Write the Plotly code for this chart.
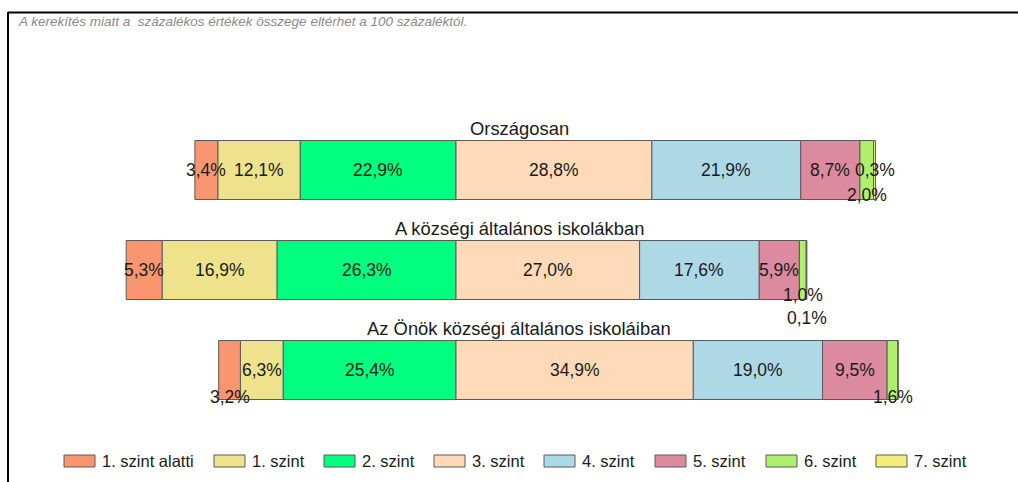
import plotly.graph_objects as go

# ---- data ----
groups = ["Országosan", "A községi általános iskolákban", "Az Önök községi általános iskoláiban"]
levels = ["1. szint alatti", "1. szint", "2. szint", "3. szint", "4. szint", "5. szint", "6. szint", "7. szint"]
values = {
    "Országosan": [3.4, 12.1, 22.9, 28.8, 21.9, 8.7, 2.0, 0.3],
    "A községi általános iskolákban": [5.3, 16.9, 26.3, 27.0, 17.6, 5.9, 1.0, 0.1],
    "Az Önök községi általános iskoláiban": [3.2, 6.3, 25.4, 34.9, 19.0, 9.5, 1.6, 0.0],
}
colors = ["#F9966F", "#EEE38C", "#00FF7F", "#FFDAB9", "#ADD8E6", "#DC8AA0", "#AEF06E", "#F2EE7C"]
note = "A kerekítés miatt a  százalékos értékek összege eltérhet a 100 százaléktól."
n_below = 3  # levels left of the zero line

# label vertical offsets (px, downwards) for crowded labels: (group index, level index) -> shift
label_shift = {(0, 6): 25, (1, 6): 25, (1, 7): 48, (2, 0): 27, (2, 6): 27}

W, H = 1018, 482
L, R, T, B = 48, 18, 20, 22
pw, ph = W - L - R, H - T - B

def px2paper_x(px):
    return (px - L) / pw

def px2paper_y(py):
    return (H - B - py) / ph

fig = go.Figure()
ypos = list(range(len(groups)))

# compute bases
bases = {}
for g in groups:
    v = values[g]
    start = -sum(v[:n_below])
    b = []
    acc = start
    for val in v:
        b.append(acc)
        acc += val
    bases[g] = b

annotations = []
for li, lev in enumerate(levels):
    xs = [values[g][li] for g in groups]
    bs = [bases[g][li] for g in groups]
    fig.add_trace(go.Bar(
        y=ypos, x=xs, base=bs, orientation="h", name=lev,
        marker=dict(color=colors[li], line=dict(color="#5a5a5a", width=1)),
        width=0.59, showlegend=False, hoverinfo="skip",
    ))
    for gi, g in enumerate(groups):
        val = values[g][li]
        if val <= 0:
            continue
        annotations.append(dict(
            x=bases[g][li] + val / 2, y=gi, xref="x", yref="y",
            xanchor="center", yanchor="middle",
            text=f"{val:.1f}%".replace(".", ","), showarrow=False,
            yshift=-label_shift.get((gi, li), 0),
            font=dict(family="Liberation Sans, Arial", size=17.5, color="#1a1a1a"),
        ))

# group titles
for gi, g in enumerate(groups):
    annotations.append(dict(
        x=px2paper_x(519), y=gi, xref="paper", yref="y", text=g, showarrow=False,
        xanchor="center", yanchor="middle",
        yshift=42, font=dict(family="Liberation Sans, Arial", size=18.4, color="#1a1a1a"),
    ))

# note
annotations.append(dict(
    x=px2paper_x(16), y=px2paper_y(22), xref="paper", yref="paper",
    xanchor="left", yanchor="middle",
    text=f"<i>{note}</i>", showarrow=False,
    font=dict(family="Liberation Sans, Arial", size=13.5, color="#8a8a8a"),
))

# manual legend
shapes = []
sw_x = [64, 214, 324, 434, 544, 655, 766, 876]
ly = 461
for li, lev in enumerate(levels):
    x0 = sw_x[li]
    shapes.append(dict(type="rect", xref="paper", yref="paper",
                       x0=px2paper_x(x0), x1=px2paper_x(x0 + 31),
                       y0=px2paper_y(ly - 6), y1=px2paper_y(ly + 6),
                       fillcolor=colors[li], line=dict(color="#5a5a5a", width=1)))
    annotations.append(dict(x=px2paper_x(x0 + 36), y=px2paper_y(ly), xref="paper", yref="paper",
                            xanchor="left", yanchor="middle", text=lev, showarrow=False,
                            font=dict(family="Liberation Sans, Arial", size=16.5, color="#1a1a1a")))

# frame lines
shapes.append(dict(type="line", xref="paper", yref="paper",
                   x0=px2paper_x(8), x1=px2paper_x(1018), y0=px2paper_y(12.5), y1=px2paper_y(12.5),
                   line=dict(color="black", width=2)))
shapes.append(dict(type="line", xref="paper", yref="paper",
                   x0=px2paper_x(8), x1=px2paper_x(8), y0=px2paper_y(12), y1=px2paper_y(482),
                   line=dict(color="black", width=2)))

fig.update_layout(
    width=W, height=H, margin=dict(l=L, r=R, t=T, b=B),
    barmode="overlay", plot_bgcolor="white", paper_bgcolor="white",
    xaxis=dict(range=[-60, 80], visible=False, fixedrange=True),
    yaxis=dict(range=[2.9, -1.5], visible=False, fixedrange=True),
    annotations=annotations, shapes=shapes, showlegend=False,
)
fig.write_html("out.html", config={"displayModeBar": False},
               post_script="document.body.style.margin='0';document.body.style.overflow='hidden';")
